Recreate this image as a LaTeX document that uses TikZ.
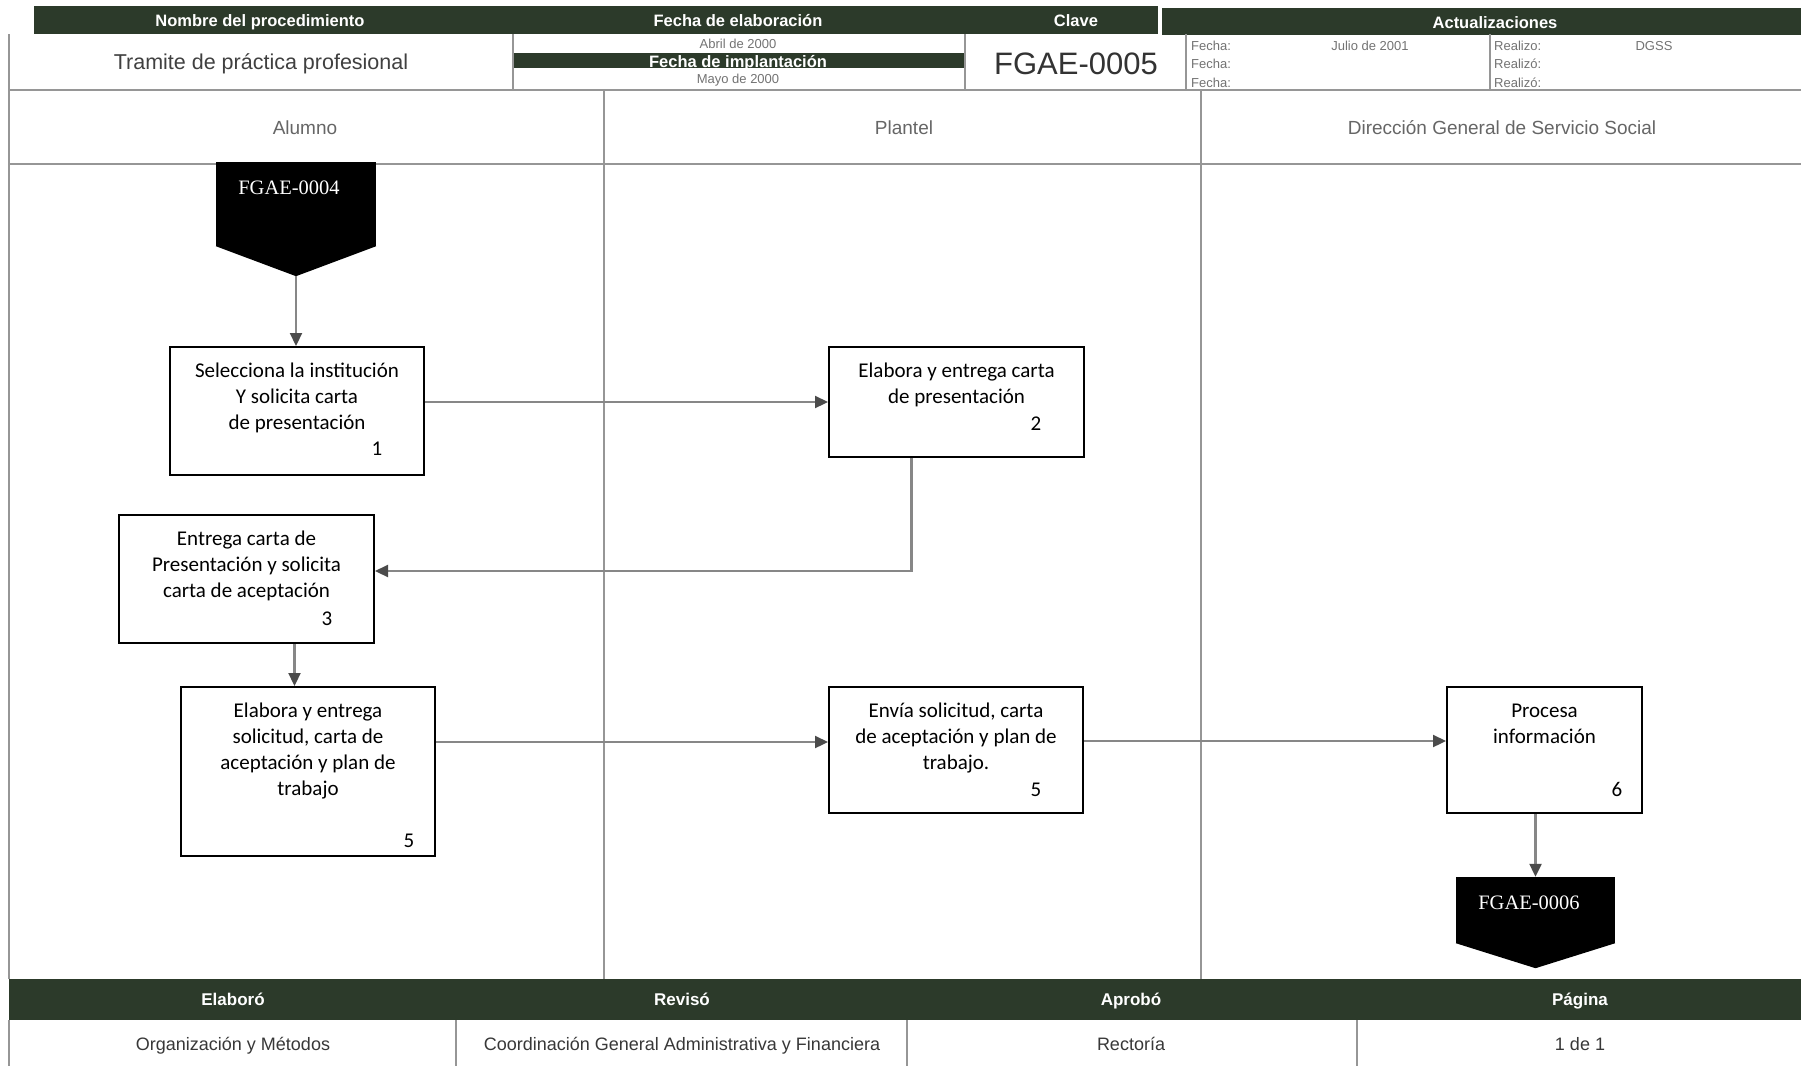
\documentclass[tikz,border=0pt]{standalone}
\usepackage{fontspec}
\setmainfont{Liberation Sans}
\newfontfamily\carlfont{Carlito}
\newfontfamily\serfont{Liberation Serif}
\usetikzlibrary{arrows.meta,calc}
\definecolor{barcol}{RGB}{44,58,42}
\definecolor{rulecol}{RGB}{150,150,150}
\definecolor{conncol}{RGB}{135,135,135}
\definecolor{tipcol}{RGB}{75,75,75}

\begin{document}
\begin{tikzpicture}[x=1pt,y=-1pt,
  hbar/.style={fill=barcol,draw=none},
  hlabel/.style={text=white,font=\bfseries\fontsize{16.5}{18}\selectfont,anchor=base,inner sep=0pt},
  small/.style={text=black!55,font=\fontsize{13}{15}\selectfont,anchor=base,inner sep=0pt},
  lane/.style={text=black!60,font=\fontsize{19}{22}\selectfont,anchor=base,inner sep=0pt},
  ftext/.style={text=black!78,font=\fontsize{18}{20}\selectfont,anchor=base,inner sep=0pt},
  grid/.style={draw=rulecol,line width=1.5pt},
  stepbox/.style={draw=black,fill=white,line width=2pt,rectangle,inner sep=0pt},
  boxtext/.style={font=\carlfont\fontsize{21}{26}\selectfont,align=center,anchor=north,inner sep=0pt},
  numtext/.style={font=\carlfont\fontsize{21}{26}\selectfont,anchor=base,inner sep=0pt},
  flow/.style={draw=conncol,line width=2.2pt,-{Triangle[length=13pt,width=12pt,color=tipcol,fill=tipcol]}},
  endbody/.style={fill=black,draw=none,inner sep=0pt},
  endtext/.style={text=white,font=\serfont\fontsize{20.5}{24}\selectfont,anchor=base,inner sep=0pt},
]
\useasboundingbox (0,0) rectangle (1801,1066);
\fill[white] (0,0) rectangle (1801,1066);

% ---------- heading block ----------
\fill[hbar] (34,6) rectangle (1158,34);
\fill[hbar] (1162,8) rectangle (1801,35);
\fill[hbar] (513,53) rectangle (965,68);
\draw[grid] (9,34) -- (9,979);
\draw[grid] (9,90) -- (1801,90);
\draw[grid] (9,164) -- (1801,164);
\foreach \xx in {513,965,1186,1490} \draw[grid] (\xx,34) -- (\xx,90);

\node[hlabel] (hnom) at (260,26) {Nombre del procedimiento};
\node[hlabel] (hfec) at (738,26) {Fecha de elaboración};
\node[hlabel] (hcla) at (1076,26) {Clave};
\node[hlabel] (hact) at (1495,28) {Actualizaciones};

\node[anchor=base,inner sep=0pt,text=black!75,font=\fontsize{21.5}{24}\selectfont] (tnom) at (261,69.5) {Tramite de práctica profesional};
\node[small] (fabr) at (738,48.5) {Abril de 2000};
\node[hlabel] (fimp) at (738,67) {Fecha de implantación};
\node[small] (fmay) at (738,83.5) {Mayo de 2000};
\node[anchor=base,inner sep=0pt,text=black!80,font=\fontsize{31}{34}\selectfont] (clave) at (1076,74) {FGAE-0005};

\node[small,anchor=base west] (fe1) at (1191,50.5) {Fecha:};
\node[small,anchor=base west] (fe2) at (1191,68.5) {Fecha:};
\node[small,anchor=base west] (fe3) at (1191,87) {Fecha:};
\node[small] (fjul) at (1370,50.5) {Julio de 2001};
\node[small,anchor=base west] (re1) at (1494,50.5) {Realizo:};
\node[small,anchor=base west] (re2) at (1494,68.5) {Realizó:};
\node[small,anchor=base west] (re3) at (1494,87) {Realizó:};
\node[small] (dgss) at (1654,50.5) {DGSS};

% ---------- swimlanes ----------
\draw[grid] (604,90) -- (604,979);
\draw[grid] (1201,90) -- (1201,979);
\node[lane] (lalu) at (305,134) {Alumno};
\node[lane] (lpla) at (904,134) {Plantel};
\node[lane] (ldir) at (1502,134) {Dirección General de Servicio Social};

% ---------- footer ----------
\fill[hbar] (9,979) rectangle (1801,1020);
\draw[grid] (9,1020) -- (9,1066);
\foreach \xx in {456,907,1357} \draw[grid] (\xx,1020) -- (\xx,1066);
\node[hlabel,font=\bfseries\fontsize{17}{19}\selectfont] (pela) at (233,1005) {Elaboró};
\node[hlabel,font=\bfseries\fontsize{17}{19}\selectfont] (prev) at (682,1005) {Revisó};
\node[hlabel,font=\bfseries\fontsize{17}{19}\selectfont] (papr) at (1131,1005) {Aprobó};
\node[hlabel,font=\bfseries\fontsize{17}{19}\selectfont] (ppag) at (1580,1005) {Página};
\node[ftext] (vela) at (233,1050) {Organización y Métodos};
\node[ftext] (vrev) at (682,1050) {Coordinación General Administrativa y Financiera};
\node[ftext] (vapr) at (1131,1050) {Rectoría};
\node[ftext] (vpag) at (1580,1050) {1 de 1};

% ---------- incoming connector ----------
\node[endbody,minimum width=160pt,minimum height=84pt] (f4) at (296,204) {};
\coordinate (f4tip) at ($(f4.south)+(0,30)$);
\fill (f4.south west) -- (f4.south east) -- (f4tip) -- cycle;
\node[endtext] (f4t) at (289,194) {FGAE-0004};

% ---------- activities ----------
\node[stepbox,minimum width=254pt,minimum height=128pt] (b1) at (297,411) {};
\node[stepbox,minimum width=255pt,minimum height=110pt] (b2) at (956.5,402) {};
\node[stepbox,minimum width=255pt,minimum height=128pt] (b3) at (246.5,579) {};
\node[stepbox,minimum width=254pt,minimum height=169pt] (b4) at (308,771.5) {};
\node[stepbox,minimum width=254pt,minimum height=126pt] (b5) at (956,750) {};
\node[stepbox,minimum width=195pt,minimum height=126pt] (b6) at (1544.5,750) {};

\node[boxtext] (b1t) at ([yshift=-12.8pt]b1.north) {\strut Selecciona la institución\\Y solicita carta\\de presentación};
\node[boxtext] (b2t) at ([yshift=-12.8pt]b2.north) {\strut Elabora y entrega carta\\de presentación};
\node[boxtext] (b3t) at ([yshift=-12.8pt]b3.north) {\strut Entrega carta de\\Presentación y solicita\\carta de aceptación};
\node[boxtext] (b4t) at ([yshift=-12.8pt]b4.north) {\strut Elabora y entrega\\solicitud, carta de\\aceptación y plan de\\trabajo};
\node[boxtext] (b5t) at ([yshift=-12.8pt]b5.north) {\strut Envía solicitud, carta\\de aceptación y plan de\\trabajo.};
\node[boxtext] (b6t) at ([yshift=-12.8pt]b6.north) {\strut Procesa\\información};

\node[numtext] (b1n) at (377,455) {1};
\node[numtext] (b2n) at (1036,430) {2};
\node[numtext] (b3n) at (327,625) {3};
\node[numtext] (b4n) at (409,847.5) {5};
\node[numtext] (b5n) at (1036,796) {5};
\node[numtext] (b6n) at (1617,796) {6};

% ---------- outgoing connector ----------
\node[endbody,minimum width=159pt,minimum height=66pt] (f6) at (1535.5,910) {};
\coordinate (f6tip) at ($(f6.south)+(0,25)$);
\fill (f6.south west) -- (f6.south east) -- (f6tip) -- cycle;
\node[endtext] (f6t) at (1529,909) {FGAE-0006};

% ---------- flow ----------
\draw[flow] (f4tip) -- (f4tip |- b1.north);
\draw[flow] (b1.east |- b2.west) -- (b2.west);
\draw[flow] ([xshift=-45pt]b2.south) |- ([yshift=8pt]b3.east);
\draw[flow] ([xshift=48pt]b3.south) -- ([xshift=48pt]b3.south |- b4.north);
\draw[flow] ([yshift=8pt]b5.west -| b4.east) -- ([yshift=8pt]b5.west);
\draw[flow] ([yshift=9pt]b5.east) -- ([yshift=9pt]b6.west);
\draw[flow] (f6.north |- b6.south) -- (f6.north);
\end{tikzpicture}
\end{document}
